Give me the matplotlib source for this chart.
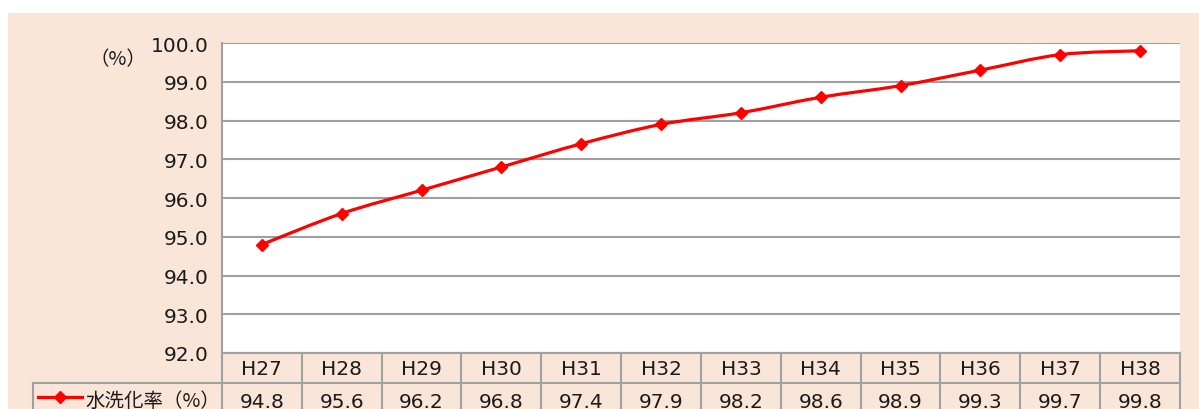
import matplotlib
matplotlib.use("Agg")
import matplotlib.pyplot as plt
from matplotlib.path import Path
from matplotlib.patches import PathPatch, Rectangle
from matplotlib.lines import Line2D
import matplotlib.transforms as mtransforms

plt.rcParams['font.family'] = ['DejaVu Sans', 'Noto Sans CJK JP']
jp_font = ['Noto Sans CJK JP', 'DejaVu Sans']

# data
years = ["H27", "H28", "H29", "H30", "H31", "H32", "H33", "H34", "H35", "H36", "H37", "H38"]
rate = [94.8, 95.6, 96.2, 96.8, 97.4, 97.9, 98.2, 98.6, 98.9, 99.3, 99.7, 99.8]
series_name = "水洗化率（%）"
y_ticks = [92.0, 93.0, 94.0, 95.0, 96.0, 97.0, 98.0, 99.0, 100.0]

W, H = 1199, 410
peach = "#FAE5D9"
grid_c = "#A0A0A0"
red = "#FF0000"
txt_c = "#1a1a1a"
fs = 14.5
fs_jp = 14

fig = plt.figure(figsize=(W / 100, H / 100), dpi=100, facecolor="white")
fig.patches.append(Rectangle((8 / W, 0), 1 - 8 / W, (H - 14) / H,
                             transform=fig.transFigure, facecolor=peach,
                             edgecolor="none", zorder=-10))

# plot area in pixels: x 222..1180, y 44..354
ax = fig.add_axes([222 / W, (H - 354) / H, (1180 - 222) / W, (354 - 44) / H])
ax.set_facecolor("white")
ax.set_xlim(-0.5, len(years) - 0.5)
ax.set_ylim(92, 100)
ax.set_yticks(y_ticks)
ax.set_yticklabels([f"{v:.1f}" for v in y_ticks], fontsize=fs, color=txt_c)
ax.set_xticks([])
ax.tick_params(axis="y", length=0, pad=9.5)
ax.yaxis.grid(True, color=grid_c, lw=1.5)
ax.set_axisbelow(True)
for s in ["top", "right"]:
    ax.spines[s].set_visible(False)
for s in ["left", "bottom"]:
    ax.spines[s].set_color(grid_c)
    ax.spines[s].set_linewidth(1.5)

# smoothed line (Catmull-Rom as bezier segments) through the points
xs = list(range(len(years)))
verts = [(xs[0], rate[0])]
codes = [Path.MOVETO]
n = len(xs)
for i in range(n - 1):
    p0 = (xs[max(i - 1, 0)], rate[max(i - 1, 0)])
    p1 = (xs[i], rate[i])
    p2 = (xs[i + 1], rate[i + 1])
    p3 = (xs[min(i + 2, n - 1)], rate[min(i + 2, n - 1)])
    c1 = (p1[0] + (p2[0] - p0[0]) / 6, p1[1] + (p2[1] - p0[1]) / 6)
    c2 = (p2[0] - (p3[0] - p1[0]) / 6, p2[1] - (p3[1] - p1[1]) / 6)
    verts += [c1, c2, p2]
    codes += [Path.CURVE4] * 3
ax.add_patch(PathPatch(Path(verts, codes), facecolor="none", edgecolor=red,
                       lw=2.3, zorder=3, clip_on=False))
ax.plot(xs, rate, linestyle="none", marker="D", markersize=6.5, color=red,
        zorder=4, clip_on=False)

# (%) label
fig.text(118 / W, (H - 60) / H, "（%）", fontsize=fs_jp, ha="center", va="center",
         color=txt_c, family=jp_font)

# data table below the axes
def ay(px):
    return (354 - px) / 310

def ax_x(px):
    return (px - 222) / 958

bt = mtransforms.blended_transform_factory(ax.transData, ax.transAxes)
lk = dict(color=grid_c, lw=1.5, clip_on=False)
row1_top, row1_bot, row2_bot = 354, 384, 425
for i in range(n + 1):
    ax.add_line(Line2D([i - 0.5, i - 0.5], [ay(row1_top), ay(row2_bot)],
                       transform=bt, **lk))
ax.add_line(Line2D([ax_x(33), 1.0], [ay(row1_bot), ay(row1_bot)],
                   transform=ax.transAxes, **lk))
ax.add_line(Line2D([ax_x(33), ax_x(33)], [ay(row1_bot), ay(row2_bot)],
                   transform=ax.transAxes, **lk))
for i, (lab, v) in enumerate(zip(years, rate)):
    ax.text(i, ay(369.5), lab, transform=bt, ha="center", va="center",
            fontsize=fs, color=txt_c)
    ax.text(i, ay(403), f"{v:.1f}", transform=bt, ha="center", va="center",
            fontsize=fs, color=txt_c)

# legend key in table
ax.add_line(Line2D([ax_x(38), ax_x(82)], [ay(398), ay(398)], transform=ax.transAxes,
                   color=red, lw=2.3, clip_on=False))
ax.add_line(Line2D([ax_x(60)], [ay(398)], transform=ax.transAxes, color=red,
                   marker="D", markersize=6.5, linestyle="none", clip_on=False))
ax.text(ax_x(85), ay(401), series_name, transform=ax.transAxes, ha="left",
        va="center", fontsize=fs_jp, color=txt_c, family=jp_font)

fig.savefig("out.png", dpi=100, facecolor=fig.get_facecolor())
